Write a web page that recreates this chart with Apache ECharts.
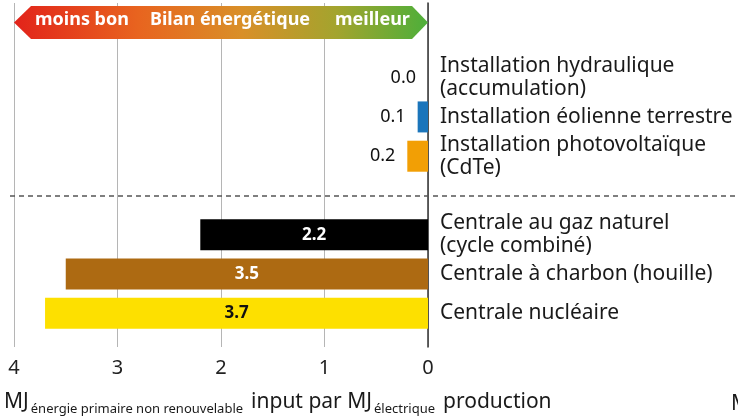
<!DOCTYPE html>
<html>
<head>
<meta charset="utf-8">
<script src="https://cdn.jsdelivr.net/npm/echarts@6/dist/echarts.min.js"></script>
<style>
  html, body { margin: 0; padding: 0; background: #fff; }
  #chart { width: 738px; height: 418px; }
</style>
</head>
<body>
<div id="chart"></div>
<script>
// données
const categories = [
  'Installation hydraulique\n(accumulation)',
  'Installation éolienne terrestre',
  'Installation photovoltaïque\n(CdTe)',
  '',
  'Centrale au gaz naturel\n(cycle combiné)',
  'Centrale à charbon (houille)',
  'Centrale nucléaire'
];
const values = [0.0, 0.1, 0.2, '-', 2.2, 3.5, 3.7];
const axisTicks = [0, 1, 2, 3, 4];
const bannerTexts = ['moins bon', 'Bilan énergétique', 'meilleur'];

const barColors = ['#1b75bb', '#1b75bb', '#f29f05', '#fff', '#000000', '#ad6a12', '#fde000'];
const font = '"Noto Sans", "Open Sans", sans-serif';

const chart = echarts.init(document.getElementById('chart'));

const barData = values.map((v, i) => {
  const big = v !== '-' && v >= 1;
  return {
    value: v,
    itemStyle: { color: barColors[i] },
    label: big ? {
      position: 'inside',
      fontWeight: 'bold',
      fontSize: 17,
      color: barColors[i] === '#fde000' ? '#111' : '#fff'
    } : {
      position: 'left',
      distance: 12,
      fontSize: 18,
      color: '#111'
    }
  };
});

const option = {
  animation: false,
  backgroundColor: '#fff',
  textStyle: { fontFamily: font },
  grid: [
    { left: 14, right: 310, top: 3, bottom: 71 },
    { left: 14, right: 310, top: 58, height: 275 }
  ],
  xAxis: [
    {
      gridIndex: 0, type: 'value', min: 0, max: 4, interval: 1, inverse: true,
      axisLine: { show: false }, axisTick: { show: false },
      splitLine: { lineStyle: { color: '#b5b5b5', width: 1 } },
      axisLabel: {
        margin: 11, fontSize: 20, color: '#222', fontFamily: font,
        formatter: (v) => axisTicks.includes(v) ? String(v) : ''
      }
    },
    {
      gridIndex: 1, type: 'value', min: 0, max: 4, inverse: true, show: false
    }
  ],
  yAxis: [
    {
      gridIndex: 0, type: 'value', position: 'right',
      axisLine: { show: true, lineStyle: { color: '#333', width: 1.5 } },
      axisTick: { show: false }, axisLabel: { show: false }, splitLine: { show: false }
    },
    {
      gridIndex: 1, type: 'category', position: 'right', inverse: true,
      data: categories,
      axisLine: { show: false }, axisTick: { show: false },
      axisLabel: {
        margin: 12, fontSize: 21, color: '#1a1a1a', lineHeight: 23,
        align: 'left', fontFamily: font
      }
    }
  ],
  series: [
    {
      type: 'bar',
      xAxisIndex: 1, yAxisIndex: 1,
      barWidth: 31,
      data: barData,
      label: {
        show: true,
        fontFamily: font,
        formatter: (p) => Number(p.value).toFixed(1)
      }
    }
  ],
  graphic: [
    {
      type: 'polygon', z: 100,
      shape: { points: [[14, 22.5], [31, 6], [412, 6], [428, 22.5], [412, 39], [31, 39]] },
      style: {
        fill: new echarts.graphic.LinearGradient(0, 0, 1, 0, [
          { offset: 0, color: '#e2231a' },
          { offset: 0.3, color: '#e8641f' },
          { offset: 0.55, color: '#d98f28' },
          { offset: 0.78, color: '#a3a42e' },
          { offset: 1, color: '#4daf3a' }
        ])
      }
    },
    {
      type: 'text', z: 101, left: 35, top: 11,
      style: { text: bannerTexts[0], fill: '#fff', font: 'bold 18px ' + font }
    },
    {
      type: 'text', z: 101, left: 150, top: 11,
      style: { text: bannerTexts[1], fill: '#fff', font: 'bold 18px ' + font }
    },
    {
      type: 'text', z: 101, left: 335, top: 11,
      style: { text: bannerTexts[2], fill: '#fff', font: 'bold 18px ' + font }
    },
    {
      type: 'line', z: 50,
      shape: { x1: 10, y1: 196, x2: 738, y2: 196 },
      style: { stroke: '#555', lineWidth: 1.5, lineDash: [5, 4] }
    },
    {
      type: 'text', z: 100, left: 4, top: 392,
      style: {
        text: '{b|MJ}{s|énergie primaire non renouvelable}{p|input par MJ}{s|électrique}{p|production}',
        fill: '#1a1a1a',
        rich: {
          b: { fontSize: 21, lineHeight: 27, fontFamily: font, fill: '#1a1a1a' },
          p: { fontSize: 21, lineHeight: 27, fontFamily: font, fill: '#1a1a1a', padding: [0, 0, 0, 8] },
          s: { fontSize: 13, lineHeight: 16, verticalAlign: 'bottom', fontFamily: font, fill: '#1a1a1a', padding: [0, 0, 0, 2] }
        }
      }
    },
    {
      type: 'text', z: 100, left: 731, top: 394,
      style: { text: 'M', fill: '#1a1a1a', font: '21px ' + font }
    }
  ]
};

chart.setOption(option);
</script>
</body>
</html>
